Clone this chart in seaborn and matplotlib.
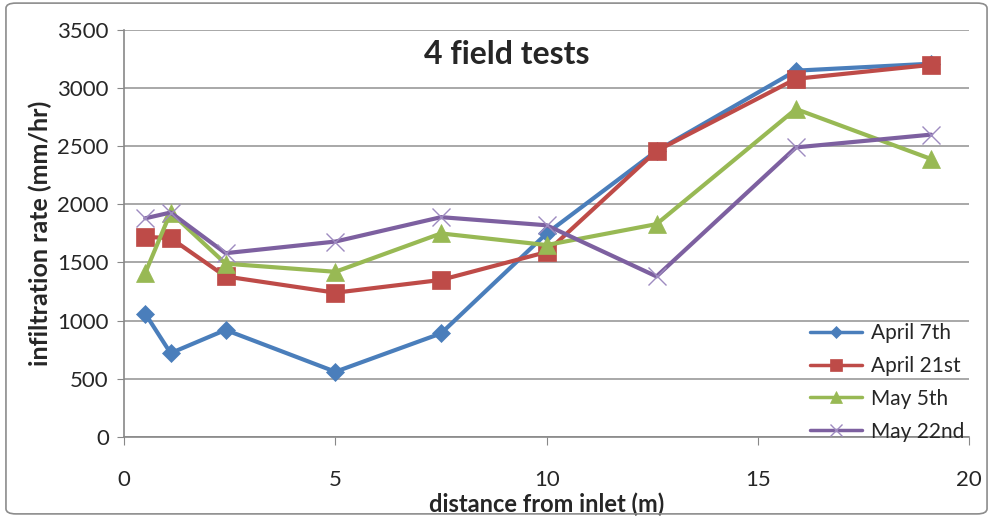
import numpy as np
import pandas as pd
import matplotlib
matplotlib.use("Agg")
import matplotlib.pyplot as plt
from matplotlib.patches import FancyBboxPatch
import seaborn as sns

# distance from inlet (m)
distance = [0.5, 1.1, 2.4, 5.0, 7.5, 10.0, 12.6, 15.9, 19.1]

april_7 = [1060, 720, 920, 560, 890, 1750, 2460, 3150, 3210]
april_21 = [1720, 1710, 1380, 1240, 1350, 1590, 2460, 3080, 3200]
may_5 = [1410, 1930, 1490, 1420, 1750, 1650, 1830, 2820, 2390]
may_22 = [1880, 1930, 1580, 1680, 1890, 1820, 1380, 2490, 2600]

series_names = ["April 7th", "April 21st", "May 5th", "May 22nd"]
series_vals = [april_7, april_21, may_5, may_22]

colors = ["#4A7EBB", "#BE4B48", "#98B954", "#7D60A0"]
markers = ["D", "s", "^", "x"]
msizes = [9, 13, 13, 13]

sns.set_style("white")
plt.rcParams['font.family'] = ['Lato', 'DejaVu Sans']

fig = plt.figure(figsize=(9.93, 5.17), dpi=100)
ax = fig.add_axes([0.125, 0.155, 0.851, 0.787])

for name, vals, col, mk, ms in zip(series_names, series_vals, colors, markers, msizes):
    df = pd.DataFrame({"x": distance, "y": vals})
    mec = col if mk != "x" else "#9E8BC0"
    sns.lineplot(data=df, x="x", y="y", ax=ax, sort=False, color=col, lw=3,
                 marker=mk, markersize=ms, markeredgecolor=mec,
                 markeredgewidth=1.0 if mk == "x" else 0.5, label=name)

ax.set_xlim(0, 20)
ax.set_ylim(0, 3500)
ax.set_xticks(np.arange(0, 21, 5))
ax.set_yticks(np.arange(0, 3501, 500))
ax.yaxis.grid(True, color="#999999", lw=1.2)
ax.xaxis.grid(False)
for s in ["top", "right"]:
    ax.spines[s].set_visible(False)
for s in ["left", "bottom"]:
    ax.spines[s].set_color("#888888")
    ax.spines[s].set_linewidth(1.2)
ax.tick_params(axis="x", direction="out", length=6, color="#888888", labelsize=16, pad=18)
ax.tick_params(axis="y", direction="out", length=5, color="#888888", labelsize=16, pad=6)
ax.tick_params(bottom=True, left=True)

ax.set_xlabel("distance from inlet (m)", fontsize=17, fontweight="bold", labelpad=2)
ax.set_ylabel("infiltration rate (mm/hr)", fontsize=18, fontweight="bold", labelpad=4)
ax.text(0.453, 0.975, "4 field tests", transform=ax.transAxes, ha="center", va="top",
        fontsize=23, fontweight="bold")

leg = ax.legend(loc="upper left", bbox_to_anchor=(0.812, 0.28), frameon=False,
                fontsize=15, handlelength=2.5, labelspacing=0.62, handletextpad=0.4,
                borderpad=0, borderaxespad=0, markerscale=0.65)
for h in leg.legend_handles:
    h.set_linewidth(2.5)

border = FancyBboxPatch((0.006, 0.006), 0.988, 0.988, boxstyle="round,pad=0,rounding_size=0.01",
                        transform=fig.transFigure, fill=False, ec="#8c8c8c", lw=1.2)
fig.patches.append(border)

fig.savefig("out.png", dpi=100)
